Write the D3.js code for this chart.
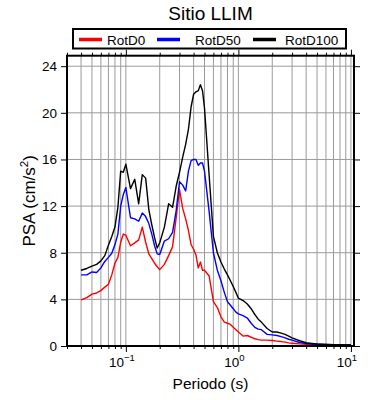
<!DOCTYPE html>
<html>
<head>
<meta charset="utf-8">
<script src="https://cdn.jsdelivr.net/npm/d3@7"></script>
<style>
  body { margin: 0; background: #fff; }
  text { font-family: "Liberation Sans", Arial, sans-serif; fill: #000; }
</style>
</head>
<body>
<div id="chart"></div>
<script>
"use strict";

// periods (s)
var periods = [0.04, 0.045, 0.05, 0.055, 0.06, 0.065, 0.07, 0.075, 0.08, 0.085, 0.09, 0.095,
  0.1, 0.11, 0.12, 0.13, 0.14, 0.15, 0.16, 0.17, 0.18, 0.19, 0.2, 0.22, 0.24, 0.26, 0.28,
  0.3, 0.32, 0.34, 0.36, 0.38, 0.4, 0.42, 0.44, 0.46, 0.48, 0.5, 0.55, 0.6, 0.65, 0.7,
  0.75, 0.8, 0.85, 0.9, 0.95, 1.0, 1.1, 1.2, 1.3, 1.4, 1.5, 1.6, 1.8, 2.0, 2.2, 2.4, 2.6,
  2.8, 3.0, 3.5, 4.0, 4.5, 5, 6, 7, 8, 9, 10];

var rotD0 = [3.95, 4.15, 4.45, 4.55, 4.75, 5.05, 5.3, 6.1, 7.1, 7.6, 8.9, 9.6,
  9.5, 8.6, 8.85, 9.1, 10.2, 8.9, 7.9, 7.5, 7.1, 6.8, 6.55, 7.0, 7.75, 8.5, 11.0,
  13.4, 11.8, 10.9, 9.9, 8.7, 8.3, 7.8, 6.7, 7.2, 6.5, 6.5, 6.0, 3.8, 3.3, 2.5,
  2.05, 1.95, 1.85, 1.6, 1.4, 1.2, 0.85, 0.9, 0.75, 0.62, 0.55, 0.5, 0.5, 0.47, 0.42, 0.38, 0.33,
  0.27, 0.23, 0.18, 0.15, 0.13, 0.12, 0.1, 0.09, 0.08, 0.08, 0.07];

var rotD50 = [6.1, 6.1, 6.35, 6.3, 6.7, 7.25, 7.6, 7.95, 8.7, 9.6, 12.0, 13.0,
  13.6, 11.0, 10.9, 10.7, 11.4, 11.1, 10.5, 9.6, 8.6, 7.9, 7.85, 9.0, 9.2, 9.75, 11.6,
  14.1, 13.8, 13.3, 15.0, 15.9, 16.0, 16.0, 15.5, 15.7, 15.7, 15.0, 11.5, 8.0, 6.5, 5.6,
  4.6, 3.8, 3.5, 3.2, 2.9, 2.75, 2.6, 2.4, 1.95, 1.6, 1.45, 1.4, 1.0, 0.95, 0.9, 0.8, 0.7,
  0.58, 0.5, 0.3, 0.22, 0.17, 0.15, 0.13, 0.11, 0.1, 0.09, 0.08];

var rotD100 = [6.5, 6.65, 6.85, 7.0, 7.3, 7.75, 8.65, 9.4, 10.2, 11.9, 15.0, 14.9,
  15.6, 13.5, 14.3, 12.2, 14.7, 14.4, 11.7, 10.4, 9.3, 8.4, 8.85, 10.2, 12.2, 11.9, 13.7,
  14.9, 16.2, 17.3, 18.6, 20.5, 21.6, 21.8, 21.9, 22.4, 21.9, 20.4, 14.6, 9.4, 8.0, 7.2,
  6.6, 6.1, 5.6, 5.1, 4.6, 4.1, 3.9, 3.6, 3.2, 2.7, 2.3, 2.05, 1.5, 1.2, 1.2, 1.1, 1.0,
  0.85, 0.7, 0.45, 0.28, 0.22, 0.17, 0.14, 0.12, 0.11, 0.1, 0.09];

var seriesNames = ["RotD0", "RotD50", "RotD100"];
var seriesColors = ["#ff0000", "#0000ff", "#000000"];
var seriesValues = [rotD0, rotD50, rotD100];

var yTicks = [0, 4, 8, 12, 16, 20, 24];
var xMajor = [0.1, 1, 10];
var xMajorExp = ["\u22121", "0", "1"];

var width = 390, height = 400;
var margin = { top: 55.7, right: 36, bottom: 54, left: 67 };

var svg = d3.select("#chart").append("svg")
  .attr("width", width)
  .attr("height", height);

var x = d3.scaleLog()
  .domain([0.03, 10.65])
  .range([margin.left, width - margin.right]);

var y = d3.scaleLinear()
  .domain([0, 24.9])
  .range([height - margin.bottom, margin.top]);

var x0 = x.range()[0], x1 = x.range()[1];
var y0 = y.range()[0], y1 = y.range()[1];

var minor = x.ticks().filter(function (d) {
  return xMajor.indexOf(d) < 0;
});

// == grid ==
var grid = svg.append("g");
grid.selectAll(".vg")
  .data(x.ticks())
  .enter().append("line")
  .attr("x1", function (d) { return x(d); })
  .attr("x2", function (d) { return x(d); })
  .attr("y1", y1).attr("y2", y0)
  .attr("stroke", "#9a9a9a")
  .attr("stroke-width", 1);
grid.selectAll(".hg")
  .data(yTicks.slice(1))
  .enter().append("line")
  .attr("x1", x0).attr("x2", x1)
  .attr("y1", function (d) { return y(d); })
  .attr("y2", function (d) { return y(d); })
  .attr("stroke", "#9a9a9a")
  .attr("stroke-width", 1);

// == curves ==
var line = d3.line()
  .x(function (d) { return x(d[0]); })
  .y(function (d) { return y(d[1]); });

seriesValues.forEach(function (vals, i) {
  var pts = periods.map(function (p, j) { return [p, vals[j]]; });
  svg.append("path")
    .datum(pts)
    .attr("d", line)
    .attr("fill", "none")
    .attr("stroke", seriesColors[i])
    .attr("stroke-width", 1.4)
    .attr("stroke-linejoin", "round");
});

// == axes (ticks on all sides) ==
function cleanAxis(g) {
  g.select(".domain").remove();
  g.selectAll(".tick line").attr("stroke", "#000").attr("stroke-width", 1);
}
svg.append("g").attr("transform", "translate(0," + y0 + ")")
  .call(d3.axisBottom(x).tickValues(xMajor).tickSize(6).tickFormat(""))
  .call(cleanAxis);
svg.append("g").attr("transform", "translate(0," + y0 + ")")
  .call(d3.axisBottom(x).tickValues(minor).tickSize(3).tickFormat(""))
  .call(cleanAxis);
svg.append("g").attr("transform", "translate(0," + y1 + ")")
  .call(d3.axisTop(x).tickValues(xMajor).tickSize(6).tickFormat(""))
  .call(cleanAxis);
svg.append("g").attr("transform", "translate(0," + y1 + ")")
  .call(d3.axisTop(x).tickValues(minor).tickSize(3).tickFormat(""))
  .call(cleanAxis);

var yAx = svg.append("g").attr("transform", "translate(" + x0 + ",0)")
  .call(d3.axisLeft(y).tickValues(yTicks).tickSize(6).tickPadding(4))
  .call(cleanAxis);
yAx.selectAll(".tick text")
  .attr("font-size", 13.5)
  .attr("font-family", "Liberation Sans, Arial, sans-serif");
svg.append("g").attr("transform", "translate(" + x1 + ",0)")
  .call(d3.axisRight(y).tickValues(yTicks).tickSize(6).tickFormat(""))
  .call(cleanAxis);

// x tick labels 10^n
var xl = svg.append("g").selectAll("text")
  .data(xMajor)
  .enter().append("text")
  .attr("x", function (d) { return x(d) - 4; })
  .attr("y", y0 + 21)
  .attr("text-anchor", "middle")
  .attr("font-size", 13.5);
xl.append("tspan").text("10");
xl.append("tspan")
  .attr("dy", -6)
  .attr("font-size", 9.5)
  .text(function (d, i) { return xMajorExp[i]; });

// frame
svg.append("rect")
  .attr("x", x0).attr("y", y1)
  .attr("width", x1 - x0).attr("height", y0 - y1)
  .attr("fill", "none")
  .attr("stroke", "#000")
  .attr("stroke-width", 2);

// labels
svg.append("text")
  .attr("x", (x0 + x1) / 2)
  .attr("y", 389)
  .attr("text-anchor", "middle")
  .attr("font-size", 15.5)
  .text("Periodo (s)");

var yl = svg.append("text")
  .attr("transform", "translate(35," + ((y0 + y1) / 2) + ") rotate(-90)")
  .attr("text-anchor", "middle")
  .attr("font-size", 17);
yl.append("tspan").text("PSA (cm/s");
yl.append("tspan").attr("dy", -7).attr("font-size", 11.5).text("2");
yl.append("tspan").attr("dy", 7).text(")");

svg.append("text")
  .attr("x", 210.5)
  .attr("y", 20)
  .attr("text-anchor", "middle")
  .attr("font-size", 19)
  .text("Sitio LLIM");

// == legend ==
var legend = svg.append("g");
legend.append("rect")
  .attr("x", 73).attr("y", 29)
  .attr("width", 273).attr("height", 19.5)
  .attr("fill", "#fff")
  .attr("stroke", "#000")
  .attr("stroke-width", 2);
var legX = [79, 157, 253];
var legTextX = [107, 195, 285];
seriesNames.forEach(function (name, i) {
  legend.append("line")
    .attr("x1", legX[i]).attr("x2", legX[i] + 23)
    .attr("y1", 39.5).attr("y2", 39.5)
    .attr("stroke", seriesColors[i])
    .attr("stroke-width", 3.5);
  legend.append("text")
    .attr("x", legTextX[i])
    .attr("y", 44.5)
    .attr("font-size", 13.5)
    .text(name);
});
</script>
</body>
</html>
